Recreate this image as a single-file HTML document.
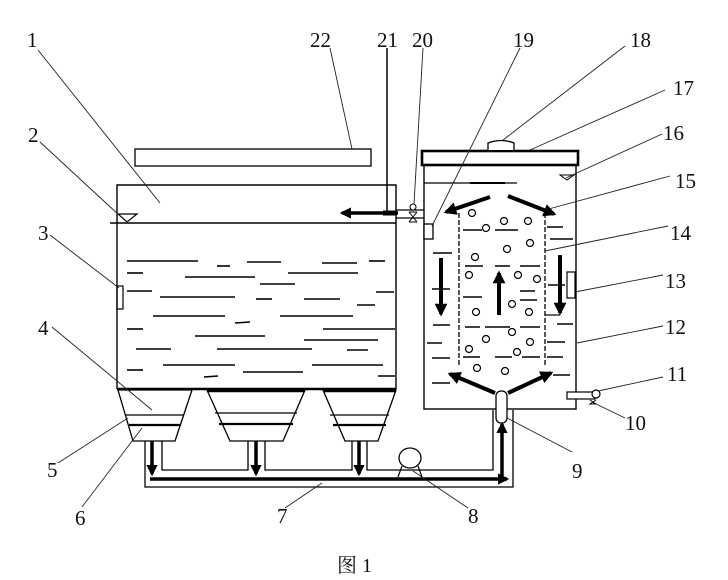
<!DOCTYPE html>
<html><head><meta charset="utf-8"><style>
html,body{margin:0;padding:0;background:#fff;}
svg{display:block;}
.t{font-family:"Liberation Serif","Noto Serif CJK SC",serif;font-size:21px;fill:#111;}
</style></head><body>
<svg width="728" height="580" viewBox="0 0 728 580" xmlns="http://www.w3.org/2000/svg">
<defs>
<marker id="a" viewBox="0 0 10 10" refX="8" refY="5" markerWidth="3.4" markerHeight="3.2" orient="auto"><path d="M0,0 L10,5 L0,10 z" fill="#000"/></marker>
</defs>
<rect width="728" height="580" fill="#fff"/>

<!-- Lid 22 -->
<rect x="135" y="149" width="236" height="17" fill="none" stroke="#000" stroke-width="1.3"/>

<!-- Left tank -->
<path d="M117,389 V185 H396 V389" fill="none" stroke="#000" stroke-width="1.4"/>
<line x1="117" y1="389" x2="396" y2="389" stroke="#000" stroke-width="2.5"/>
<line x1="110" y1="223" x2="396" y2="223" stroke="#000" stroke-width="1.6"/>
<polygon points="118,214 137,214 127,222" fill="none" stroke="#000" stroke-width="1.2"/>
<rect x="117" y="286" width="6" height="23" fill="none" stroke="#000" stroke-width="1.2"/>

<!-- water dashes left tank -->
<g stroke="#000" stroke-width="1.6">
<line x1="127" y1="261" x2="198" y2="261"/><line x1="217" y1="266" x2="230" y2="266"/><line x1="247" y1="262" x2="281" y2="262"/><line x1="322" y1="263" x2="357" y2="263"/><line x1="369" y1="261" x2="385" y2="261"/>
<line x1="127" y1="273" x2="143" y2="273"/><line x1="185" y1="277" x2="255" y2="277"/><line x1="288" y1="273" x2="358" y2="273"/>
<line x1="260" y1="284" x2="295" y2="284"/>
<line x1="127" y1="291" x2="152" y2="291"/><line x1="376" y1="292" x2="394" y2="292"/>
<line x1="160" y1="297" x2="235" y2="297"/><line x1="256" y1="299" x2="272" y2="299"/><line x1="304" y1="299" x2="340" y2="299"/><line x1="357" y1="305" x2="375" y2="305"/>
<line x1="153" y1="316" x2="225" y2="316"/><line x1="280" y1="316" x2="353" y2="316"/>
<line x1="235" y1="323" x2="250" y2="322"/>
<line x1="127" y1="329" x2="143" y2="329"/><line x1="323" y1="329" x2="395" y2="329"/>
<line x1="195" y1="336" x2="265" y2="336"/>
<line x1="304" y1="340" x2="378" y2="340"/>
<line x1="136" y1="349" x2="171" y2="349"/><line x1="217" y1="349" x2="312" y2="349"/><line x1="347" y1="350" x2="368" y2="350"/>
<line x1="163" y1="365" x2="235" y2="365"/><line x1="312" y1="365" x2="383" y2="365"/>
<line x1="127" y1="370" x2="143" y2="370"/><line x1="243" y1="372" x2="303" y2="372"/>
<line x1="204" y1="377" x2="218" y2="376"/><line x1="378" y1="376" x2="395" y2="376"/>
</g>

<!-- Hoppers -->
<g fill="none" stroke="#000" stroke-width="1.3">
<polygon points="118,390 192,390 175,441 133,441"/>
<line x1="126" y1="415" x2="184" y2="415"/>
<line x1="129" y1="425" x2="181" y2="425" stroke-width="2.2"/>
<polygon points="207,390 305,390 283,441 230,441"/>
<line x1="215" y1="413" x2="297" y2="413"/>
<line x1="219" y1="424" x2="293" y2="424" stroke-width="2.2"/>
<polygon points="323,390 396,390 378,441 345,441"/>
<line x1="330" y1="415" x2="389" y2="415"/>
<line x1="333" y1="425" x2="386" y2="425" stroke-width="2.2"/>
</g>
<line x1="207" y1="391" x2="305" y2="391" stroke="#000" stroke-width="2.5"/>
<line x1="323" y1="391" x2="396" y2="391" stroke="#000" stroke-width="2.5"/>

<!-- Pipes -->
<g fill="none" stroke="#000" stroke-width="1.3">
<path d="M145,441 V487 H513 V410"/>
<path d="M162,441 V470 H248 V441"/>
<path d="M265,441 V470 H352 V441"/>
<path d="M367,441 V470 H493 V410"/>
</g>
<g stroke="#000" stroke-width="3.5" fill="none">
<line x1="152" y1="441" x2="152" y2="474" marker-end="url(#a)"/>
<line x1="256" y1="441" x2="256" y2="474" marker-end="url(#a)"/>
<line x1="359" y1="441" x2="359" y2="474" marker-end="url(#a)"/>
<path d="M150,479 H507" marker-end="url(#a)"/>
<line x1="502" y1="479" x2="502" y2="424" marker-end="url(#a)"/>
</g>
<!-- Pump 8 -->
<ellipse cx="410" cy="458" rx="11" ry="10" fill="#fff" stroke="#000" stroke-width="1.3"/>
<path d="M402,466 L398,477 M418,466 L422,477" stroke="#000" stroke-width="1.2"/>

<!-- Right tank -->
<rect x="424" y="165" width="152" height="244" fill="none" stroke="#000" stroke-width="1.4"/>
<rect x="422" y="151" width="156" height="14" fill="#fff" stroke="#000" stroke-width="2.6"/>
<path d="M488,150 V143 Q501,138 514,143 V150" fill="#fff" stroke="#000" stroke-width="1.3"/>
<line x1="424" y1="183" x2="517" y2="183" stroke="#000" stroke-width="1.2"/>
<line x1="470" y1="183" x2="505" y2="183" stroke="#000" stroke-width="2"/>
<polygon points="560,175 574,175 567,180" fill="none" stroke="#000" stroke-width="1"/>

<!-- inner tube -->
<g stroke="#000" stroke-width="1.3" stroke-dasharray="5,2">
<line x1="459" y1="213" x2="459" y2="367"/>
<line x1="545" y1="213" x2="545" y2="367"/>
</g>
<rect x="424" y="224" width="9" height="15" fill="#fff" stroke="#000" stroke-width="1.3"/>

<!-- right tank dashes -->
<g stroke="#000" stroke-width="1.5">
<line x1="463" y1="230" x2="482" y2="230"/><line x1="495" y1="230" x2="518" y2="230"/>
<line x1="465" y1="266" x2="483" y2="266"/><line x1="495" y1="266" x2="510" y2="266"/><line x1="520" y1="266" x2="540" y2="266"/>
<line x1="520" y1="291" x2="535" y2="291"/>
<line x1="463" y1="297" x2="482" y2="297"/><line x1="520" y1="300" x2="537" y2="300"/>
<line x1="465" y1="327" x2="480" y2="327"/><line x1="485" y1="327" x2="510" y2="327"/><line x1="520" y1="327" x2="540" y2="327"/>
<line x1="463" y1="357" x2="480" y2="357"/><line x1="495" y1="357" x2="512" y2="357"/><line x1="522" y1="357" x2="540" y2="357"/>
<line x1="433" y1="253" x2="452" y2="253"/><line x1="432" y1="289" x2="450" y2="289"/><line x1="433" y1="325" x2="450" y2="325"/><line x1="427" y1="343" x2="442" y2="343"/><line x1="432" y1="358" x2="450" y2="358"/><line x1="432" y1="383" x2="450" y2="383"/>
<line x1="547" y1="227" x2="563" y2="227"/><line x1="550" y1="239" x2="573" y2="239"/><line x1="548" y1="285" x2="565" y2="285"/><line x1="557" y1="324" x2="573" y2="324"/><line x1="547" y1="342" x2="565" y2="342"/><line x1="547" y1="357" x2="563" y2="357"/><line x1="553" y1="375" x2="570" y2="375"/>
</g>
<!-- bubbles -->
<g fill="#fff" stroke="#000" stroke-width="1.2">
<circle cx="472" cy="213" r="3.5"/><circle cx="504" cy="221" r="3.5"/><circle cx="528" cy="221" r="3.5"/><circle cx="486" cy="228" r="3.5"/>
<circle cx="507" cy="249" r="3.5"/><circle cx="530" cy="243" r="3.5"/><circle cx="475" cy="257" r="3.5"/>
<circle cx="469" cy="275" r="3.5"/><circle cx="518" cy="275" r="3.5"/><circle cx="537" cy="279" r="3.5"/>
<circle cx="512" cy="304" r="3.5"/><circle cx="529" cy="312" r="3.5"/><circle cx="476" cy="312" r="3.5"/>
<circle cx="512" cy="332" r="3.5"/><circle cx="486" cy="339" r="3.5"/><circle cx="530" cy="342" r="3.5"/>
<circle cx="469" cy="349" r="3.5"/><circle cx="517" cy="352" r="3.5"/><circle cx="477" cy="368" r="3.5"/><circle cx="505" cy="371" r="3.5"/>
</g>
<rect x="567" y="272" width="8" height="26" fill="#fff" stroke="#000" stroke-width="1.2"/>

<!-- right tank arrows -->
<g stroke="#000" stroke-width="4" fill="none">
<line x1="490" y1="197" x2="446" y2="212" marker-end="url(#a)"/>
<line x1="508" y1="196" x2="554" y2="214" marker-end="url(#a)"/>
<line x1="441" y1="258" x2="441" y2="314" marker-end="url(#a)"/>
<line x1="560" y1="255" x2="560" y2="313" marker-end="url(#a)"/>
<line x1="499" y1="315" x2="499" y2="273" marker-end="url(#a)"/>
<line x1="495" y1="393" x2="450" y2="374" marker-end="url(#a)"/>
<line x1="508" y1="393" x2="551" y2="373" marker-end="url(#a)"/>
</g>
<line x1="545" y1="315" x2="560" y2="315" stroke="#000" stroke-width="1.2"/>
<!-- tube 9 -->
<rect x="496" y="391" width="11" height="32" rx="5" fill="#fff" stroke="#000" stroke-width="1.3"/>
<!-- valve 11 -->
<rect x="567" y="392" width="28" height="7" fill="#fff" stroke="#000" stroke-width="1.2"/>
<circle cx="596" cy="394" r="4" fill="#fff" stroke="#000" stroke-width="1.2"/>
<path d="M590,400 L596,404 L590,404 L596,400" fill="none" stroke="#000" stroke-width="1"/>

<!-- Inlet pipe from left tank to right tank -->
<g stroke="#000" stroke-width="1.2" fill="none">
<line x1="396" y1="210" x2="424" y2="210"/>
<line x1="396" y1="218" x2="424" y2="218"/>
</g>
<line x1="398" y1="213" x2="342" y2="213" stroke="#000" stroke-width="3.5" marker-end="url(#a)"/>
<line x1="383" y1="213" x2="396" y2="213" stroke="#000" stroke-width="5"/>
<!-- valve 20 -->
<circle cx="413" cy="207" r="3" fill="#fff" stroke="#000" stroke-width="1.1"/>
<path d="M409,212 L417,222 M417,212 L409,222 M409,212 H417 M409,222 H417" stroke="#000" stroke-width="1" fill="none"/>

<!-- leader lines -->
<g stroke="#222" stroke-width="0.9">
<line x1="38" y1="50" x2="160" y2="203"/>
<line x1="40" y1="142" x2="120" y2="216"/>
<line x1="50" y1="235" x2="119" y2="288"/>
<line x1="52" y1="327" x2="152" y2="410"/>
<line x1="58" y1="463" x2="128" y2="418"/>
<line x1="82" y1="507" x2="142" y2="428"/>
<line x1="285" y1="508" x2="322" y2="483"/>
<line x1="468" y1="508" x2="413" y2="471"/>
<line x1="572" y1="452" x2="507" y2="418"/>
<line x1="625" y1="418" x2="592" y2="402"/>
<line x1="663" y1="377" x2="598" y2="391"/>
<line x1="663" y1="326" x2="577" y2="343"/>
<line x1="663" y1="275" x2="575" y2="292"/>
<line x1="668" y1="226" x2="545" y2="251"/>
<line x1="670" y1="176" x2="545" y2="210"/>
<line x1="662" y1="134" x2="566" y2="178"/>
<line x1="665" y1="90" x2="530" y2="150"/>
<line x1="625" y1="46" x2="503" y2="140"/>
<line x1="520" y1="48" x2="432" y2="226"/>
<line x1="423" y1="48" x2="414" y2="204"/>
<line x1="330" y1="48" x2="352" y2="149"/>
</g>
<line x1="387" y1="48" x2="387" y2="212" stroke="#000" stroke-width="1.5"/>

<!-- labels -->
<g class="t">
<text x="27" y="47">1</text>
<text x="28" y="142">2</text>
<text x="38" y="240">3</text>
<text x="38" y="335">4</text>
<text x="47" y="477">5</text>
<text x="75" y="525">6</text>
<text x="277" y="523">7</text>
<text x="468" y="523">8</text>
<text x="572" y="478">9</text>
<text x="625" y="430">10</text>
<text x="667" y="381">11</text>
<text x="665" y="334">12</text>
<text x="665" y="288">13</text>
<text x="670" y="240">14</text>
<text x="675" y="188">15</text>
<text x="663" y="140">16</text>
<text x="673" y="95">17</text>
<text x="630" y="47">18</text>
<text x="513" y="47">19</text>
<text x="412" y="47">20</text>
<text x="377" y="47">21</text>
<text x="310" y="47">22</text>
</g>
<text x="337" y="572" style="font-family:'Liberation Serif','Noto Serif CJK SC',serif;font-size:20px;fill:#111">图 1</text>
</svg>
</body></html>
